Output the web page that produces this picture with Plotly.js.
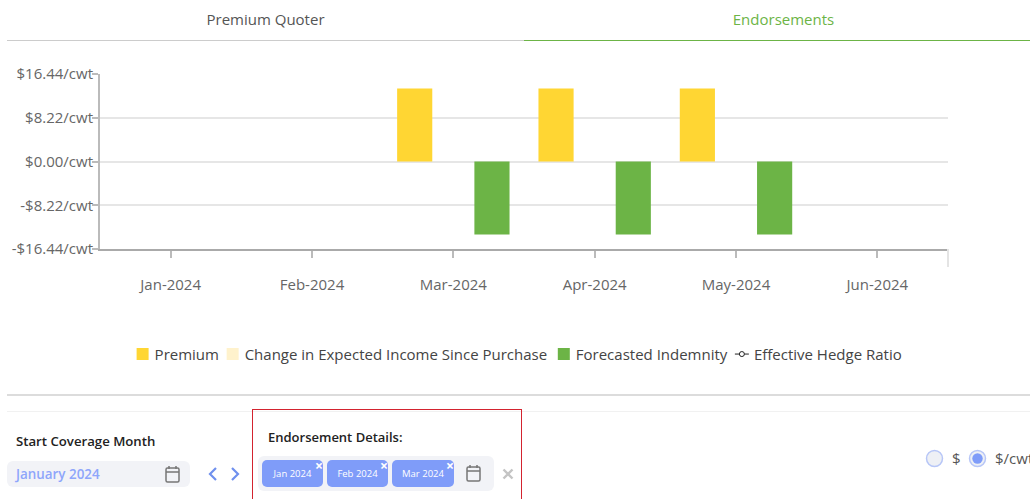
<!DOCTYPE html>
<html>
<head>
<meta charset="utf-8">
<script src="https://cdn.plot.ly/plotly-3.0.1.min.js"></script>
<style>
html,body{margin:0;padding:0;background:#fff;width:1030px;height:499px;overflow:hidden;font-family:"Open Sans",sans-serif;}
#chart{position:absolute;left:0;top:0;width:1030px;height:400px;}
.abs{position:absolute;white-space:nowrap;}
.tab{font-size:15px;line-height:20px;top:9px;text-align:center;}
.chip{position:absolute;top:460px;height:27px;background:#7f9cf9;border-radius:5px;color:#fff;font-size:9.5px;line-height:28px;text-align:center;}
.chip i{position:absolute;right:0px;top:-8px;font-style:normal;font-size:14px;font-weight:700;}
.cal{position:absolute;}
</style>
</head>
<body>
<div id="chart"></div>

<div class="abs tab" style="left:7px;width:517px;color:#555;">Premium Quoter</div>
<div class="abs tab" style="left:524px;width:519px;color:#6cb446;">Endorsements</div>
<div class="abs" style="left:7px;top:40px;width:517px;height:1px;background:#ccc;"></div>
<div class="abs" style="left:524px;top:40px;width:506px;height:1px;background:#6cb446;"></div>
<div class="abs" style="left:7px;top:394px;width:1023px;height:2px;background:#dcdcdc;"></div>
<div class="abs" style="left:7px;top:411px;width:1023px;height:1px;background:#f1f1f1;"></div>

<div class="abs" style="left:16px;top:431.5px;font-size:13.2px;line-height:18px;font-weight:600;color:#222;">Start Coverage Month</div>
<div class="abs" style="left:7px;top:461px;width:183px;height:26px;background:#f2f3f7;border-radius:6px;"></div>
<div class="abs" style="left:16px;top:464px;font-size:13.4px;line-height:20px;font-weight:600;color:#8ea6fb;">January 2024</div>
<svg class="cal" style="left:165px;top:465px" width="15" height="18" viewBox="0 0 15 18"><rect x="1" y="3" width="13" height="14" rx="1.5" fill="none" stroke="#777" stroke-width="1.5"/><path d="M1 7H14M4 1V4M11 1V4" stroke="#777" stroke-width="1.5" fill="none"/></svg>
<svg class="cal" style="left:207px;top:466px" width="36" height="16" viewBox="0 0 36 16"><path d="M9 2L3 8L9 14M25 2L31 8L25 14" fill="none" stroke="#6f90ee" stroke-width="2.2"/></svg>

<div class="abs" style="left:251.5px;top:408.5px;width:270px;height:100px;border:1px solid #d3232f;box-sizing:border-box;"></div>
<div class="abs" style="left:268px;top:428px;font-size:13px;line-height:18px;font-weight:600;color:#222;">Endorsement Details:</div>
<div class="abs" style="left:258px;top:456px;width:236px;height:35px;background:#f2f3f7;border-radius:6px;"></div>
<div class="chip" style="left:262px;width:61px;">Jan 2024<i>×</i></div>
<div class="chip" style="left:327px;width:61px;">Feb 2024<i>×</i></div>
<div class="chip" style="left:392px;width:62px;">Mar 2024<i>×</i></div>
<svg class="cal" style="left:466px;top:464px" width="15" height="18" viewBox="0 0 15 18"><rect x="1" y="3" width="13" height="14" rx="1.5" fill="none" stroke="#777" stroke-width="1.5"/><path d="M1 7H14M4 1V4M11 1V4" stroke="#777" stroke-width="1.5" fill="none"/></svg>
<svg class="cal" style="left:502px;top:468px" width="12" height="12" viewBox="0 0 12 12"><path d="M1.5 1.5L10.5 10.5M10.5 1.5L1.5 10.5" stroke="#c4c4c4" stroke-width="2.4"/></svg>

<svg class="cal" style="left:924px;top:448px" width="66" height="20" viewBox="0 0 66 20">
<circle cx="10.5" cy="10.5" r="8" fill="#eef0f5" stroke="#b7c6f7" stroke-width="1.5"/>
<circle cx="53.5" cy="10.5" r="8" fill="#eef0f5" stroke="#b7c6f7" stroke-width="1.5"/>
<circle cx="53.5" cy="10.5" r="5.2" fill="#7f9cf9"/>
</svg>
<div class="abs" style="left:952px;top:448px;font-size:15px;line-height:20px;color:#555;">$</div>
<div class="abs" style="left:995px;top:448px;font-size:15px;line-height:20px;color:#555;">$/cwt</div>

<script>
var months = ['Jan-2024','Feb-2024','Mar-2024','Apr-2024','May-2024','Jun-2024'];
var premium = [null,null,13.7,13.7,13.7,null];
var incomeChange = [null,null,0,0,0,null];
var indemnity = [null,null,-13.7,-13.7,-13.7,null];
var hedgeRatio = [null,null,null,null,null,null];
var yTickVals = [-16.44,-8.22,0,8.22,16.44];
var yTickText = ['-$16.44/cwt','-$8.22/cwt','$0.00/cwt','$8.22/cwt','$16.44/cwt'];

var PL = 100.4, PW = 847.6, PT = 74, PH = 175;
function lx(px){return (px-PL)/PW;}
var legendYpx = 354.3;
var legendY = (PT+PH-legendYpx)/PH;
function leg(px){
  return {x:lx(px),xanchor:'left',y:legendY,yanchor:'middle',orientation:'h',
    bgcolor:'rgba(0,0,0,0)',font:{family:'"Open Sans",sans-serif',size:15,color:'#444'},
    itemclick:false,itemdoubleclick:false};
}
var traces = [
 {type:'bar',name:'Premium',x:months,y:premium,marker:{color:'#ffd633'},legend:'legend'},
 {type:'bar',name:'Change in Expected Income Since Purchase',x:months,y:incomeChange,marker:{color:'#fff2cc'},legend:'legend2'},
 {type:'bar',name:'Forecasted Indemnity',x:months,y:indemnity,marker:{color:'#6cb446'},legend:'legend3'},
 {type:'scatter',mode:'lines+markers',name:'Effective Hedge Ratio',x:months,y:hedgeRatio,
  line:{color:'#222',width:1},marker:{color:'#fff',size:5,line:{color:'#222',width:1}},legend:'legend4'}
];
var layout = {
 width:1030,height:400,
 margin:{l:PL,r:1030-PL-PW,t:PT,b:400-PT-PH,pad:0,autoexpand:false},
 paper_bgcolor:'rgba(0,0,0,0)',plot_bgcolor:'rgba(0,0,0,0)',
 showlegend:true,
 barmode:'group',bargap:0.18,bargroupgap:0.09,
 font:{family:'"Open Sans",sans-serif',size:15,color:'#666'},
 xaxis:{type:'category',categoryorder:'array',categoryarray:months,range:[-0.5,5.5],fixedrange:true,
   showgrid:false,zeroline:false,showline:true,linecolor:'#aaa',linewidth:2,
   ticks:'outside',ticklen:7,tickcolor:'#bbb',tickwidth:2,ticklabelstandoff:14,tickfont:{size:15,color:'#666'}},
 yaxis:{range:[-16.44,16.44],fixedrange:true,tickmode:'array',tickvals:yTickVals,ticktext:yTickText,
   showgrid:true,gridcolor:'#e6e6e6',gridwidth:1.5,zeroline:true,zerolinecolor:'#e6e6e6',zerolinewidth:1.5,
   showline:true,linecolor:'#bbb',linewidth:2,ticks:'outside',ticklen:6,tickcolor:'#bbb',tickwidth:1.5,
   ticklabelstandoff:-4,tickfont:{size:15,color:'#666'}},
 legend:leg(115),legend2:leg(205),legend3:leg(536),legend4:leg(714),
 shapes:[{type:'line',xref:'paper',yref:'paper',x0:1,x1:1,y0:0,y1:-18/PH,line:{color:'#e4e4e4',width:2}}]
};
Plotly.newPlot('chart',traces,layout,{displayModeBar:false}).then(function(gd){
  // tighten legend swatches towards their labels, as in the original
  gd.querySelectorAll('.legendsymbols').forEach(function(s){
    s.setAttribute('transform','translate(8,0)');
  });
  gd.querySelectorAll('.legendlines path').forEach(function(p){
    p.setAttribute('d','M21,0h14');
  });
});
</script>
</body>
</html>
